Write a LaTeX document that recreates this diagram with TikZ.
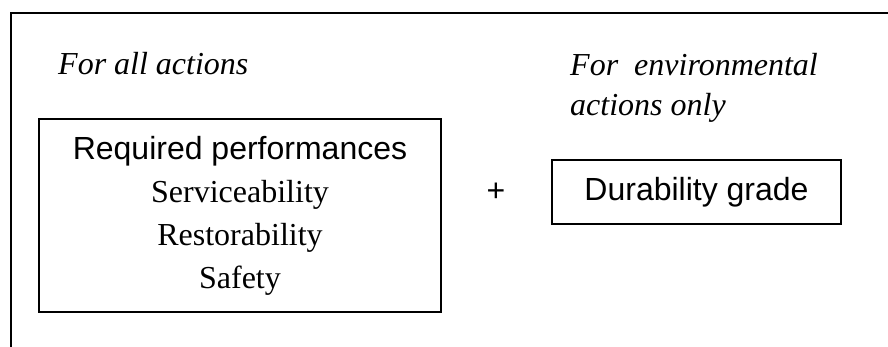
\documentclass[tikz,border=0pt]{standalone}
\usepackage{fontspec}
\setmainfont{Liberation Serif}
\setsansfont{Liberation Sans}

\begin{document}
\begin{tikzpicture}[%
x=1pt, y=1pt,
box/.style={draw, line width=1.4pt, inner sep=0pt, align=center},
heading/.style={inner sep=0pt, align=left, font=\fontsize{32}{40}\selectfont\itshape},
]
\useasboundingbox (0,0) rectangle (888,347);
%% frame;
\coordinate (fbl) at (11,0);
\coordinate (ftl) at (11,334);
\coordinate (ftr) at (888,334);
\draw [line width=1.4pt] (fbl) -- (ftl) -- (ftr);
%% label;
\node [heading, anchor=base west] (allact) at (58,272) {For all actions};
%% label;
\node [heading, anchor=north west] (envact) at (570,294) {For~~environmental\\actions only};
%% box;
\node [box, minimum width=402pt, minimum height=193pt, font=\fontsize{32}{43}\selectfont] (perf) at (240,131.5) {{\sffamily Required performances}\\Serviceability\\Restorability\\Safety};
%% plus;
\node [inner sep=0pt, font=\sffamily\fontsize{32}{40}\selectfont] (plus) at (496,155) {+};
%% box;
\node [box, minimum width=289pt, minimum height=64pt, font=\sffamily\fontsize{32}{40}\selectfont] (grade) at (696.5,155) {Durability grade};
\end{tikzpicture}
\end{document}
